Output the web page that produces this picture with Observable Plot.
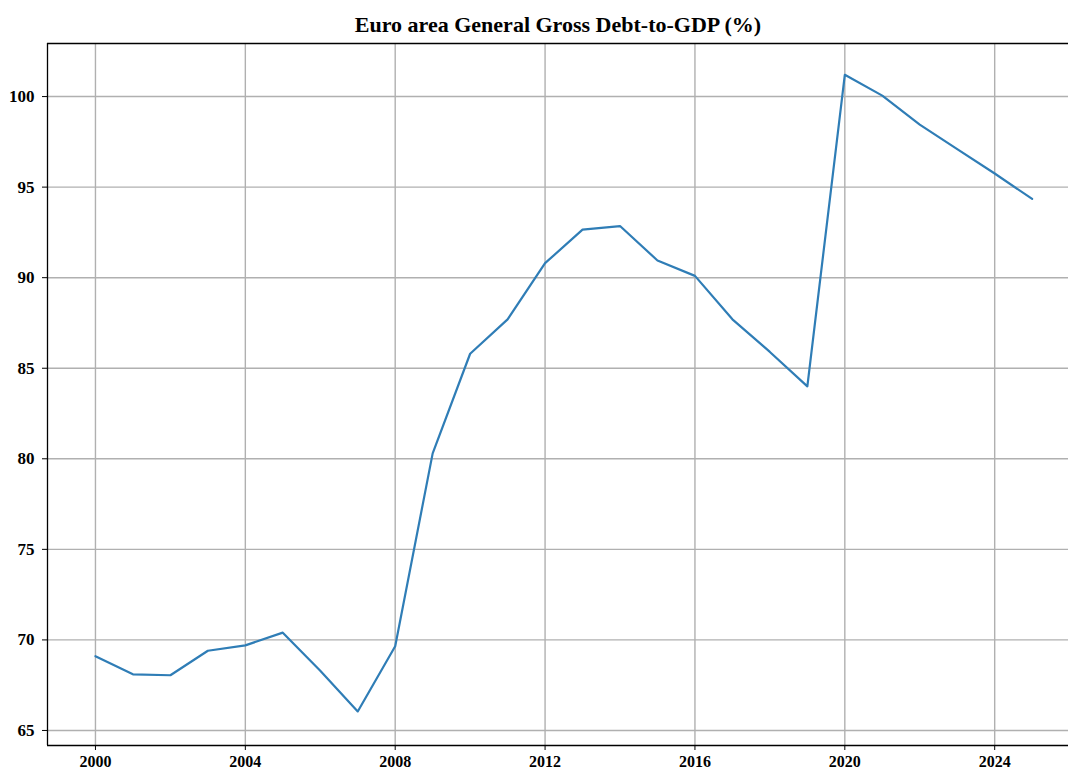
<!DOCTYPE html>
<html>
<head>
<meta charset="utf-8">
<script src="https://cdn.jsdelivr.net/npm/d3@7"></script>
<script src="https://cdn.jsdelivr.net/npm/@observablehq/plot@0.6"></script>
<style>
  html, body { margin: 0; padding: 0; background: #fff; }
  #chart svg { display: block; }
</style>
</head>
<body>
<div id="chart"></div>
<script>
const titleText = "Euro area General Gross Debt-to-GDP (%)";
const years = [2000, 2001, 2002, 2003, 2004, 2005, 2006, 2007, 2008, 2009, 2010, 2011, 2012,
               2013, 2014, 2015, 2016, 2017, 2018, 2019, 2020, 2021, 2022, 2023, 2024, 2025];
const debt = [69.1, 68.1, 68.05, 69.4, 69.7, 70.4, 68.3, 66.05, 69.65, 80.3, 85.8, 87.7, 90.8,
              92.65, 92.85, 90.95, 90.1, 87.7, 85.9, 84.0, 101.2, 100.05, 98.45, 97.1, 95.75, 94.35];
const xTicks = [2000, 2004, 2008, 2012, 2016, 2020, 2024];
const yTicks = [65, 70, 75, 80, 85, 90, 95, 100];

const data = years.map((year, i) => ({year, debt: debt[i]}));
const xDomain = [1998.72, 2025.97];
const yDomain = [64.17, 102.93];

const font = "'Liberation Serif', 'Times New Roman', serif";

const chart = Plot.plot({
  width: 1069,
  height: 772,
  marginTop: 43,
  marginLeft: 47,
  marginRight: 1,
  marginBottom: 27,
  style: {fontFamily: font, fontSize: "16px", fontWeight: "bold", color: "#000", background: "#fff"},
  x: {domain: xDomain, label: null},
  y: {domain: yDomain, label: null},
  marks: [
    Plot.gridX(xTicks, {stroke: "#b0b0b0", strokeOpacity: 1, strokeWidth: 1.4}),
    Plot.gridY(yTicks, {stroke: "#b0b0b0", strokeOpacity: 1, strokeWidth: 1.4}),
    Plot.line(data, {x: "year", y: "debt", stroke: "#2f7db6", strokeWidth: 2.2}),
    Plot.ruleX([xDomain[0]], {stroke: "#000", strokeWidth: 1.3}),
    Plot.ruleY([yDomain[0], yDomain[1]], {stroke: "#000", strokeWidth: 1.3}),
    Plot.axisX(xTicks, {tickSize: 5, tickPadding: 5, tickFormat: d => String(d), label: null,
                        fontSize: 16, fontWeight: "bold"}),
    Plot.axisY(yTicks, {tickSize: 5, tickPadding: 8, tickFormat: d => String(d), label: null,
                        fontSize: 17, fontWeight: "bold"}),
    Plot.text([titleText], {frameAnchor: "top", lineAnchor: "bottom", dy: -12,
                            fontSize: 22, fontWeight: "bold", fontFamily: font, fill: "#000"})
  ]
});
document.getElementById("chart").appendChild(chart);
</script>
</body>
</html>
